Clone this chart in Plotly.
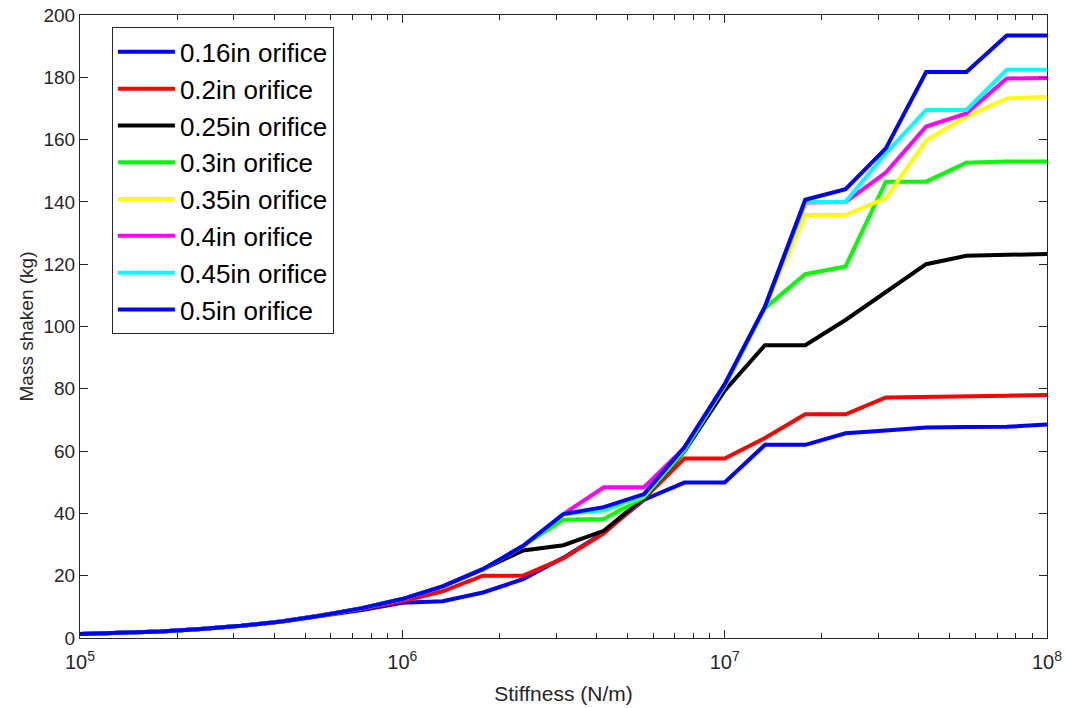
import numpy as np
import plotly.graph_objects as go

# Stiffness sweep: 25 log-spaced values from 1e5 to 1e8 N/m
stiffness = [10 ** (5 + 0.125 * i) for i in range(25)]

# Mass shaken (kg) for each orifice diameter
mass_016 = [1.3, 1.6, 2.1, 2.9, 3.9, 5.3, 7.1, 9.0, 11.3, 11.8, 14.6, 18.9, 25.8,
            33.8, 44.4, 49.9, 49.9, 62.0, 62.0, 65.7, 66.6, 67.6, 67.7, 67.8, 68.5]
mass_020 = [1.3, 1.6, 2.1, 2.9, 3.9, 5.3, 7.2, 9.4, 11.8, 15.0, 20.0, 20.0, 25.6,
            33.6, 44.8, 57.6, 57.6, 64.2, 71.8, 71.8, 77.2, 77.3, 77.6, 77.8, 78.0]
mass_025 = [1.3, 1.6, 2.1, 2.9, 3.9, 5.3, 7.2, 9.6, 12.5, 16.6, 22.1, 28.1, 29.8,
            34.4, 45.0, 59.9, 79.4, 94.0, 94.0, 102.1, 110.9, 120.0, 122.7, 123.1, 123.3]
mass_030 = [1.3, 1.6, 2.1, 2.9, 3.9, 5.3, 7.2, 9.6, 12.5, 16.6, 22.1, 29.6, 38.0,
            38.2, 45.2, 60.2, 80.8, 105.9, 116.8, 119.3, 146.5, 146.5, 152.6, 153.0, 153.0]
mass_035 = [1.3, 1.6, 2.1, 2.9, 3.9, 5.3, 7.2, 9.6, 12.5, 16.6, 22.1, 29.6, 39.8,
            40.6, 45.6, 61.0, 81.0, 106.2, 135.8, 135.8, 141.2, 159.7, 167.4, 173.2, 173.7]
mass_040 = [1.3, 1.6, 2.1, 2.9, 3.9, 5.3, 7.2, 9.6, 12.5, 16.6, 22.1, 29.6, 39.8,
            48.4, 48.4, 61.0, 81.2, 106.3, 139.8, 140.0, 149.4, 164.2, 168.4, 179.6, 179.8]
mass_045 = [1.3, 1.6, 2.1, 2.9, 3.9, 5.3, 7.2, 9.6, 12.5, 16.6, 22.1, 29.6, 39.8,
            41.0, 45.8, 61.0, 81.2, 106.4, 140.0, 140.0, 155.6, 169.5, 169.5, 182.4, 182.4]
mass_050 = [1.3, 1.6, 2.1, 2.9, 3.9, 5.3, 7.2, 9.6, 12.5, 16.6, 22.1, 29.6, 39.8,
            42.0, 46.2, 61.2, 81.5, 106.4, 140.7, 144.1, 157.2, 181.7, 181.7, 193.4, 193.4]

series_names = ["0.16in orifice", "0.2in orifice", "0.25in orifice", "0.3in orifice",
                "0.35in orifice", "0.4in orifice", "0.45in orifice", "0.5in orifice"]
series_values = [mass_016, mass_020, mass_025, mass_030,
                 mass_035, mass_040, mass_045, mass_050]
series_colors = ["#0000FF", "#FF0000", "#000000", "#00FF00",
                 "#FFFF00", "#FF00FF", "#00FFFF", "#0000FF"]

x_major = [1e5, 1e6, 1e7, 1e8]
x_major_text = ["10<sup>5</sup>", "10<sup>6</sup>", "10<sup>7</sup>", "10<sup>8</sup>"]
x_minor = [m * 10 ** e for e in range(5, 8) for m in range(2, 10)]
y_ticks = list(range(0, 201, 20))

FONT = "Liberation Sans, Arial, Helvetica, sans-serif"
AXIS_GREY = "#262626"

fig = go.Figure()
for i, (name, vals, col) in enumerate(zip(series_names, series_values, series_colors)):
    fig.add_trace(go.Scatter(
        x=stiffness, y=vals, mode="lines", name=name,
        line=dict(color=col, width=4),
        legendgroup=f"g{i}",
    ))

fig.update_layout(
    width=1066, height=708,
    margin=dict(l=80, r=19, t=15, b=70),
    paper_bgcolor="white", plot_bgcolor="white",
    font=dict(family=FONT, color=AXIS_GREY, size=19),
    showlegend=True,
    legend=dict(
        x=0.033, y=0.98, xanchor="left", yanchor="top",
        bgcolor="white", bordercolor=AXIS_GREY, borderwidth=1,
        font=dict(family=FONT, size=26, color="black"),
        itemwidth=57, tracegroupgap=0, traceorder="grouped",
    ),
)

fig.update_xaxes(
    type="log", range=[5, 8], automargin=False,
    tickvals=x_major, ticktext=x_major_text,
    ticks="inside", ticklen=8, tickcolor=AXIS_GREY, tickwidth=1,
    minor=dict(tickvals=x_minor, ticks="inside", ticklen=5,
               tickcolor=AXIS_GREY, tickwidth=1, showgrid=False),
    showline=True, linecolor=AXIS_GREY, linewidth=1, mirror="ticks",
    showgrid=False, zeroline=False, ticklabelstandoff=6,
    tickfont=dict(size=20, color=AXIS_GREY),
    title=dict(text="Stiffness (N/m)", font=dict(size=21, color=AXIS_GREY), standoff=14),
)
fig.update_yaxes(
    range=[0, 200], tickvals=y_ticks, automargin=False,
    ticks="inside", ticklen=8, tickcolor=AXIS_GREY, tickwidth=1,
    showline=True, linecolor=AXIS_GREY, linewidth=1, mirror="ticks",
    showgrid=False, zeroline=False,
    tickfont=dict(size=19, color=AXIS_GREY),
    title=dict(text="Mass shaken (kg)", font=dict(size=19, color=AXIS_GREY), standoff=4),
)

fig.write_html("out.html")
